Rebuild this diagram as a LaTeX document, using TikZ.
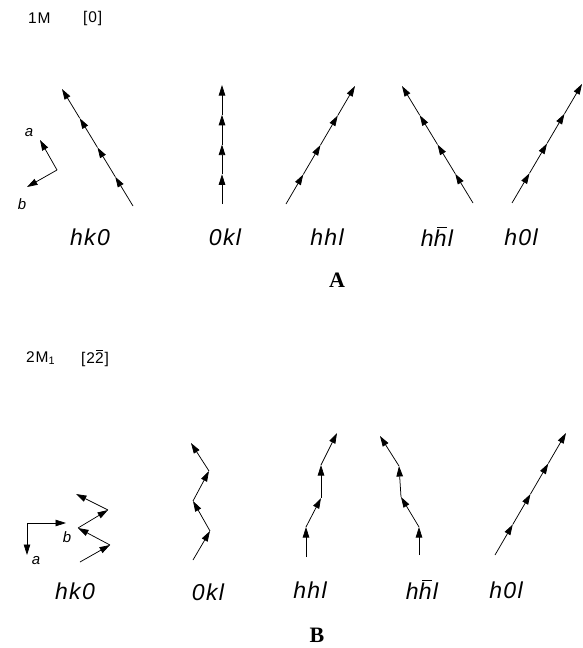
\documentclass[tikz,border=0pt]{standalone}
\usepackage{fontspec}
\setsansfont{Liberation Sans}
\newfontfamily\lblfont[LetterSpace=6]{Liberation Sans}
\newfontfamily\hdrfont[LetterSpace=6]{Liberation Sans}
\newfontfamily\capfont{Liberation Serif}
\usetikzlibrary{arrows.meta,calc}
\newcommand\barh{\leavevmode\rlap{\kern0.16em\rule[0.8em]{0.42em}{0.06em}}h}
\newcommand\bartwo{\leavevmode\rlap{\kern0.05em\rule[0.82em]{0.45em}{0.06em}}2}
\tikzset{
  seg/.style={draw, line width=0.75pt, -{Triangle[length=10.5pt,width=6.5pt]}},
  lbl/.style={inner sep=0pt, font=\lblfont\itshape\fontsize{23}{23}\selectfont},
  axl/.style={inner sep=0pt, font=\lblfont\itshape\fontsize{15}{15}\selectfont},
  hdr/.style={inner sep=0pt, anchor=west, font=\hdrfont\fontsize{15.5}{16}\selectfont},
  panelcap/.style={inner sep=0pt, font=\capfont\bfseries\fontsize{22}{22}\selectfont},
}
\begin{document}
\begin{tikzpicture}[x=1pt,y=-1pt]
\useasboundingbox (0,0) rectangle (582,648);
% ---------------- Panel A ----------------
\node[hdr] (h1) at (28,18) {1M};
\node[hdr] (h2) at (83,18) {[0]};
% axes
\coordinate (axA) at (57,170);
\coordinate (aA) at (40,140);
\coordinate (bA) at (27,187);
\draw[seg] (axA) -- (aA);
\draw[seg] (axA) -- (bA);
\node[axl] (laA) at (29,133) {a};
\node[axl] (lbA) at (22,204) {b};
% straight chains: 4 segments each
\foreach \nm/\sx/\sy/\ex/\ey in {hk/133/206/62/89, ok/222/204/222/85, hh/286/204/355/86, hb/473/203/402/86, ho/512/203/582/84}{
  \coordinate (\nm0) at (\sx,\sy);
  \coordinate (\nm1) at ($(\sx,\sy)!0.25!(\ex,\ey)$);
  \coordinate (\nm2) at ($(\sx,\sy)!0.5!(\ex,\ey)$);
  \coordinate (\nm3) at ($(\sx,\sy)!0.75!(\ex,\ey)$);
  \coordinate (\nm4) at (\ex,\ey);
  \draw[seg] (\nm0) -- (\nm1);
  \draw[seg] (\nm1) -- (\nm2);
  \draw[seg] (\nm2) -- (\nm3);
  \draw[seg] (\nm3) -- (\nm4);
}
\node[lbl] (lA1) at (90,237) {hk0};
\node[lbl] (lA2) at (225,237) {0kl};
\node[lbl] (lA3) at (327,237) {hhl};
\node[lbl] (lA4) at (437,237) {h\barh l};
\node[lbl] (lA5) at (521,237) {h0l};
\node[panelcap] (A) at (337,280) {A};
% ---------------- Panel B ----------------
\node[hdr] (h3) at (26,358) {2M\textsubscript{1}};
\node[hdr] (h4) at (81,358) {[2\bartwo]};
\coordinate (axB) at (27,523);
\coordinate (bB) at (66,523);
\coordinate (aB) at (27,555);
\draw[seg] (axB) -- (bB);
\draw[seg] (axB) -- (aB);
\node[axl] (lbB) at (67,537) {b};
\node[axl] (laB) at (36,561) {a};
% zigzag chains
\foreach \nm/\pa/\pb/\pc/\pd/\pe in {
  zk/{80,562}/{110,545}/{78,528}/{108,510}/{76,494},
  zo/{193,560}/{210,531}/{193,501}/{209,471}/{191,443},
  zh/{306,557}/{306,527}/{321,498}/{321,465}/{337,433},
  zb/{419,555}/{419,527}/{401,497}/{399,466}/{380,436},
  zl/{495,555}/{512.75,524.5}/{530.5,494}/{548.25,463.5}/{566,433}}{
  \coordinate (\nm0) at (\pa);
  \coordinate (\nm1) at (\pb);
  \coordinate (\nm2) at (\pc);
  \coordinate (\nm3) at (\pd);
  \coordinate (\nm4) at (\pe);
  \draw[seg] (\nm0) -- (\nm1);
  \draw[seg] (\nm1) -- (\nm2);
  \draw[seg] (\nm2) -- (\nm3);
  \draw[seg] (\nm3) -- (\nm4);
}
\node[lbl] (lB1) at (75,591) {hk0};
\node[lbl] (lB2) at (208,592) {0kl};
\node[lbl] (lB3) at (310,590) {hhl};
\node[lbl] (lB4) at (422,590) {h\barh l};
\node[lbl] (lB5) at (506,590) {h0l};
\node[panelcap] (B) at (317,635) {B};
\end{tikzpicture}
\end{document}
